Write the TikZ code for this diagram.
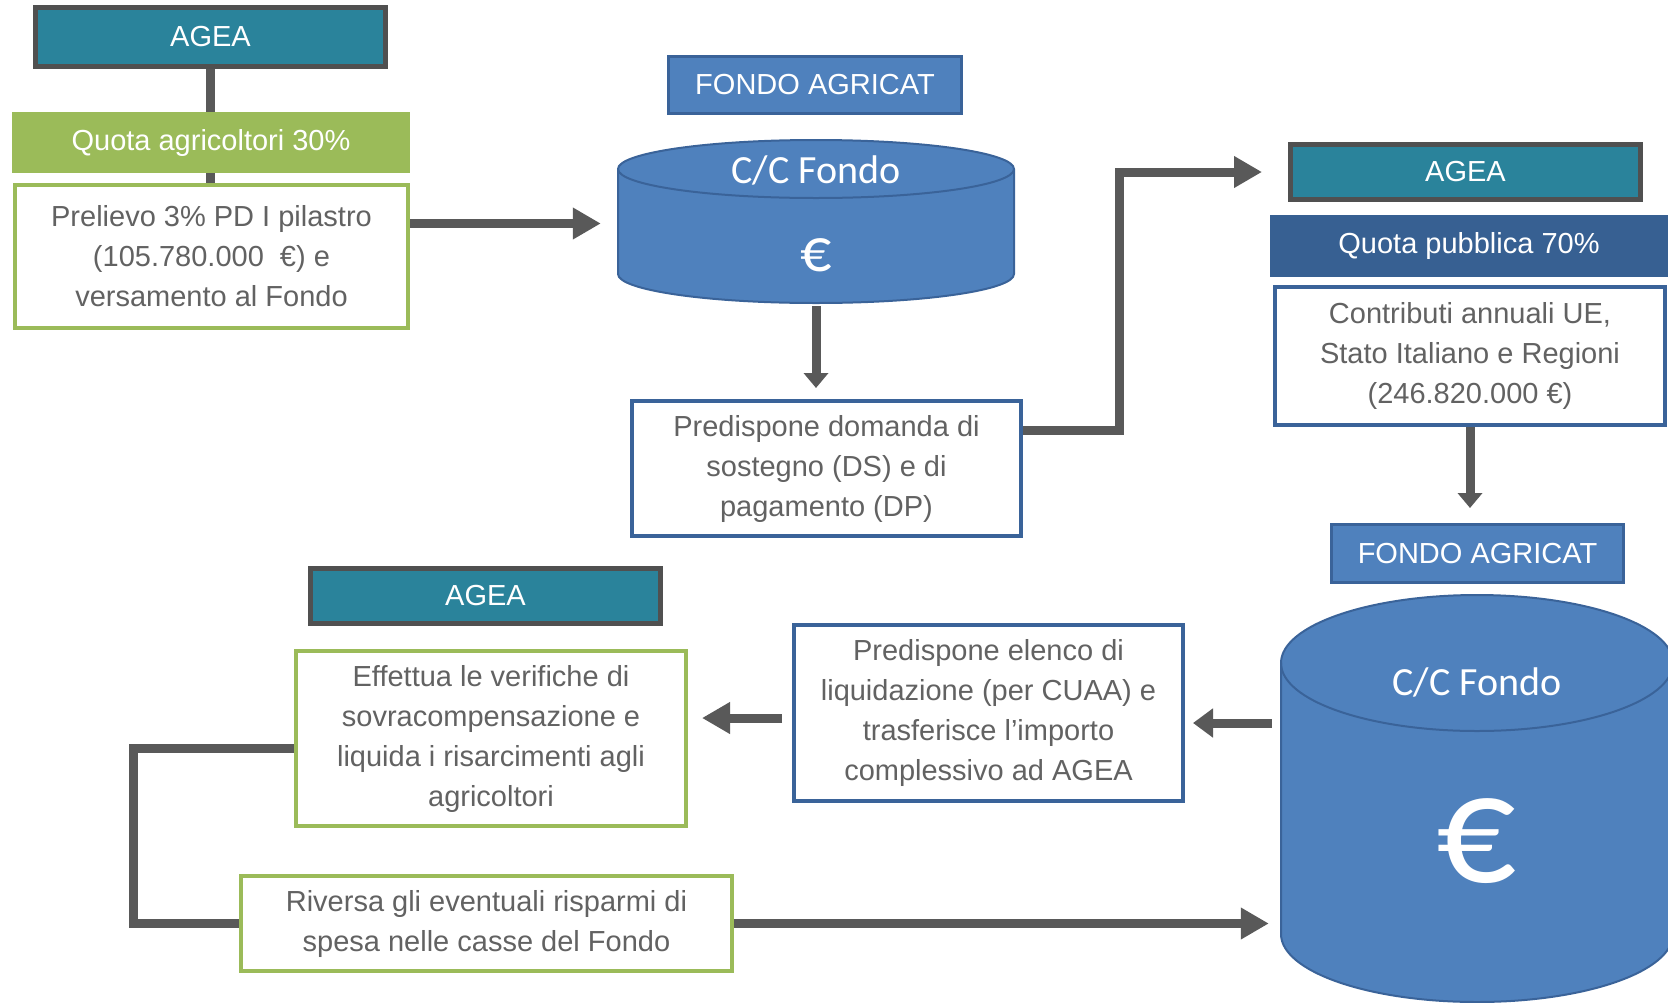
\documentclass[tikz,border=0pt]{standalone}
\usepackage{fontspec}
\setmainfont{Liberation Sans}
\newfontfamily\calib{Carlito}
\usetikzlibrary{arrows.meta,calc}
\definecolor{agteal}{HTML}{2A839B}
\definecolor{agborder}{HTML}{505050}
\definecolor{aggreen}{HTML}{9BBB59}
\definecolor{agblue}{HTML}{4F81BD}
\definecolor{agblueb}{HTML}{3A6399}
\definecolor{agdark}{HTML}{376092}
\definecolor{agtext}{HTML}{626262}
\definecolor{agline}{HTML}{595959}
\pgfdeclarelayer{bg}
\pgfsetlayers{bg,main}
\tikzset{
  box/.style={inner sep=0pt, align=center, font=\fontsize{29}{40}\selectfont},
  ageabox/.style={box, fill=agteal, draw=agborder, line width=5pt, text=white},
  greenhead/.style={box, fill=aggreen, text=white},
  greenbox/.style={box, fill=white, draw=aggreen, line width=4pt, text=agtext},
  bluebox/.style={box, fill=white, draw=agblueb, line width=4pt, text=agtext},
  fondobox/.style={box, fill=agblue, draw=agblueb, line width=3pt, text=white},
  pubbox/.style={box, fill=agdark, text=white},
  cylbody/.style={fill=agblue, draw=agblueb, line width=2pt},
  cyltext/.style={inner sep=0pt, text=white, font=\calib\fontsize{40}{40}\selectfont},
  conn/.style={draw=agline, line width=9pt},
  arr/.style={conn, -{Triangle[width=30pt,length=28pt]}},
  arrs/.style={conn, -{Triangle[width=24pt,length=15pt]}},
}
\begin{document}
\begin{tikzpicture}[x=1pt,y=-1pt]
\path[use as bounding box] (0,0) rectangle (1668,1002);

% cylinder 1
\path[cylbody] (618,169) -- (618,274) arc[start angle=180,end angle=360,x radius=198pt,y radius=29pt]
  -- (1014,169) arc[start angle=0,end angle=180,x radius=198pt,y radius=29pt] -- cycle;
\draw[draw=agblueb, line width=2pt] (618,169) arc[start angle=180,end angle=360,x radius=198pt,y radius=29pt];
\node[inner sep=0pt, minimum width=396pt, minimum height=165pt] (cyl1) at (816,223.5) {};
\node[cyltext] (cyl1t) at (816,170) {C/C Fondo};
\node[cyltext, font=\calib\fontsize{62}{62}\selectfont] (cyl1e) at (816,255) {€};

% cylinder 2
\path[cylbody] (1281,663) -- (1281,934) arc[start angle=180,end angle=360,x radius=196pt,y radius=68pt]
  -- (1673,663) arc[start angle=0,end angle=180,x radius=196pt,y radius=68pt] -- cycle;
\draw[draw=agblueb, line width=2pt] (1281,663) arc[start angle=180,end angle=360,x radius=196pt,y radius=68pt];
\node[inner sep=0pt, minimum width=392pt, minimum height=407pt] (cyl2) at (1477,798.5) {};
\node[cyltext] (cyl2t) at (1477,682) {C/C Fondo};
\node[cyltext, font=\calib\fontsize{158}{158}\selectfont] (cyl2e) at (1477,841) {€};

% top-left
\node[ageabox, minimum width=350pt, minimum height=59pt] (agea1) at (210.5,37) {AGEA};
\node[greenhead, minimum width=398pt, minimum height=61pt] (quotaA) at (211,142.5) {Quota agricoltori 30\%};
\node[greenbox, minimum width=393pt, minimum height=143pt] (prelievo) at (211.5,256.5)
  {Prelievo 3\% PD I pilastro\\(105.780.000 \ €) e\\versamento al Fondo};

% top middle
\node[fondobox, minimum width=293pt, minimum height=57pt] (fondo1) at (815,85) {FONDO AGRICAT};
\node[bluebox, minimum width=389pt, minimum height=135pt] (predA) at (826.5,468.5)
  {Predispone domanda di\\sostegno (DS) e di\\pagamento (DP)};

% right column
\node[ageabox, minimum width=350pt, minimum height=55pt] (agea2) at (1465.5,172) {AGEA};
\node[pubbox, minimum width=398pt, minimum height=62pt] (quotaP) at (1469,246) {Quota pubblica 70\%};
\node[bluebox, minimum width=390pt, minimum height=138pt] (contrib) at (1470,356)
  {Contributi annuali UE,\\Stato Italiano e Regioni\\(246.820.000 €)};
\node[fondobox, minimum width=292pt, minimum height=58pt] (fondo2) at (1477.5,553.5) {FONDO AGRICAT};

% bottom
\node[bluebox, minimum width=389pt, minimum height=176pt] (elenco) at (988.5,713)
  {Predispone elenco di\\liquidazione (per CUAA) e\\trasferisce l'importo\\complessivo ad AGEA};
\node[ageabox, minimum width=350pt, minimum height=55pt] (agea3) at (485.5,596) {AGEA};
\node[greenbox, minimum width=390pt, minimum height=175pt] (effettua) at (491,738.5)
  {Effettua le verifiche di\\sovracompensazione e\\liquida i risarcimenti agli\\agricoltori};
\node[greenbox, minimum width=491pt, minimum height=95pt] (riversa) at (486.5,923.5)
  {Riversa gli eventuali risparmi di\\spesa nelle casse del Fondo};

\begin{pgfonlayer}{bg}
\fill[white] (0,0) rectangle (1668,1002);
\draw[conn] (agea1.south) -- (agea1.south |- prelievo.north);
\draw[arr, shorten >=17pt] (prelievo.east |- cyl1.west) -- (cyl1.west);
\draw[arrs, shorten >=11pt] (cyl1.south) -- (cyl1.south |- predA.north);
\draw[arr, shorten >=26pt] ($(predA.east)+(0,-38)$) -- ++(96,0) |- (agea2.west);
\draw[arrs, shorten >=15pt] (contrib.south) -- (contrib.south |- fondo2.north);
\draw[arr, -{Triangle[width=28pt,length=20pt]}, shorten <=9pt, shorten >=8pt]
  ($(cyl2.west |- elenco.east)+(0,10)$) -- ($(elenco.east)+(0,10)$);
\draw[arr, shorten <=10pt, shorten >=14pt] ($(elenco.west)+(0,5)$) -- ($(effettua.east |- elenco.west)+(0,5)$);
\draw[arr, shorten >=12pt] ($(effettua.west)+(0,10)$) -- ++(-161,0) |- (cyl2.west |- riversa.east);
\end{pgfonlayer}
\end{tikzpicture}
\end{document}
